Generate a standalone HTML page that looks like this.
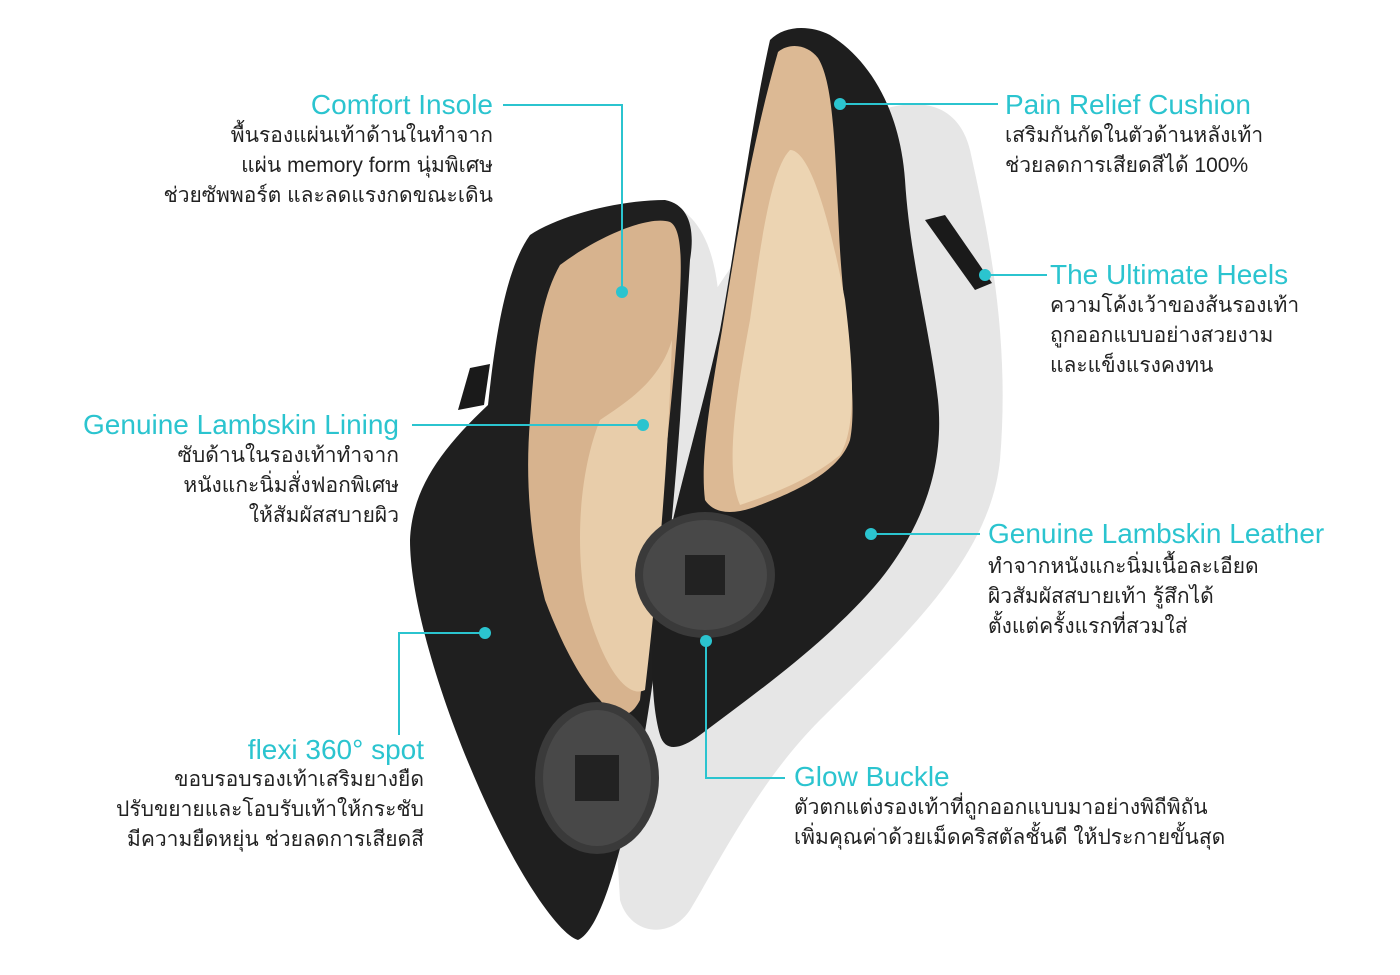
<!DOCTYPE html>
<html><head><meta charset="utf-8"><style>
html,body{margin:0;padding:0;background:#fff;width:1400px;height:975px;overflow:hidden}
.wrap{position:relative;width:1400px;height:975px;font-family:"Liberation Sans","Noto Sans CJK SC",sans-serif}
.t{position:absolute;color:#2bc4cf;font-size:28px;white-space:nowrap;line-height:30px}
.d{position:absolute;color:#222;font-size:21px;line-height:30px;white-space:nowrap}
.r{text-align:right}
svg{position:absolute;left:0;top:0}
</style></head><body><div class="wrap">
<svg width="1400" height="975" viewBox="0 0 1400 975">
<path d="M880,110 C930,95 960,110 970,150 C990,240 1010,340 1000,460 C990,560 900,640 820,720 C760,780 720,860 690,910 C670,940 630,935 620,900 L600,560 C650,400 700,300 760,230 C800,180 840,120 880,110Z" fill="#e6e6e6"/>
<path d="M660,200 C700,210 720,250 720,330 L700,600 L640,600 L620,260Z" fill="#e6e6e6"/>
<path d="M470,368 L490,364 L484,405 L458,410 Z" fill="#1a1a1a"/>
<path d="M530,235 C560,215 620,200 665,200 C690,205 695,230 690,260 L680,420 C670,560 655,680 640,760 C620,860 600,930 578,940 C560,935 520,880 480,790 C440,700 410,600 410,540 C412,490 440,450 488,405 C495,340 505,270 530,235Z" fill="#1f1f1f"/>
<path d="M560,265 C600,235 650,215 670,222 C685,230 682,280 675,360 C665,470 655,560 640,700 C630,720 615,720 600,700 C580,680 560,640 545,600 C530,540 525,480 530,420 C535,350 540,300 560,265Z" fill="#d7b38e"/>
<path d="M600,420 C630,400 660,380 672,340 C668,460 660,560 645,690 C625,700 600,660 585,600 C575,540 580,470 600,420Z" fill="#e8cdaa"/>
<path d="M925,220 L945,215 L992,283 L975,290 Z" fill="#1a1a1a"/>
<path d="M770,40 C785,25 810,25 830,35 C870,60 900,110 905,180 C910,260 930,330 938,400 C945,470 920,530 880,580 C830,640 760,690 700,735 C680,750 665,752 660,735 C650,700 650,640 660,580 C675,500 700,420 720,330 C735,250 750,130 770,40Z" fill="#1e1e1e"/>
<path d="M778,52 C790,42 808,45 818,58 C835,85 835,160 840,250 C845,330 858,400 850,440 C840,470 800,490 760,505 C735,515 715,515 705,500 C700,460 710,400 722,330 C735,250 750,150 778,52Z" fill="#dcb994"/>
<path d="M790,150 C810,150 830,220 845,300 C855,380 855,430 840,455 C810,480 770,495 740,505 C725,470 735,400 750,320 C760,250 770,170 790,150Z" fill="#ecd4b2"/>
<ellipse cx="705" cy="575" rx="70" ry="63" fill="#3a3a3a"/>
<ellipse cx="705" cy="575" rx="62" ry="55" fill="#555" opacity="0.5"/>
<rect x="685" y="555" width="40" height="40" fill="#222"/>
<ellipse cx="597" cy="778" rx="62" ry="76" fill="#3a3a3a"/>
<ellipse cx="597" cy="778" rx="54" ry="68" fill="#555" opacity="0.5"/>
<rect x="575" y="755" width="44" height="46" fill="#222"/>
<g stroke="#2bc4cf" stroke-width="2" fill="none">
<polyline points="503,105 622,105 622,292"/>
<line x1="840" y1="104" x2="998" y2="104"/>
<line x1="985" y1="275" x2="1047" y2="275"/>
<line x1="412" y1="425" x2="643" y2="425"/>
<line x1="871" y1="534" x2="980" y2="534"/>
<polyline points="399,735 399,633 485,633"/>
<polyline points="706,641 706,778 785,778"/>
</g>
<g fill="#2bc4cf">
<circle cx="622" cy="292" r="6"/><circle cx="840" cy="104" r="6"/><circle cx="985" cy="275" r="6"/>
<circle cx="643" cy="425" r="6"/><circle cx="871" cy="534" r="6"/><circle cx="485" cy="633" r="6"/><circle cx="706" cy="641" r="6"/>
</g>
</svg>
<div class="t r" style="right:907px;top:90px">Comfort Insole</div>
<div class="d r" style="right:907px;top:121px">พื้นรองแผ่นเท้าด้านในทำจาก<br>แผ่น memory form นุ่มพิเศษ<br>ช่วยซัพพอร์ต และลดแรงกดขณะเดิน</div>
<div class="t" style="left:1005px;top:90px">Pain Relief Cushion</div>
<div class="d" style="left:1005px;top:121px">เสริมกันกัดในตัวด้านหลังเท้า<br>ช่วยลดการเสียดสีได้ 100%</div>
<div class="t" style="left:1050px;top:260px">The Ultimate Heels</div>
<div class="d" style="left:1050px;top:291px">ความโค้งเว้าของส้นรองเท้า<br>ถูกออกแบบอย่างสวยงาม<br>และแข็งแรงคงทน</div>
<div class="t r" style="right:1001px;top:410px">Genuine Lambskin Lining</div>
<div class="d r" style="right:1001px;top:441px">ซับด้านในรองเท้าทำจาก<br>หนังแกะนิ่มสั่งฟอกพิเศษ<br>ให้สัมผัสสบายผิว</div>
<div class="t" style="left:988px;top:519px">Genuine Lambskin Leather</div>
<div class="d" style="left:988px;top:552px">ทำจากหนังแกะนิ่มเนื้อละเอียด<br>ผิวสัมผัสสบายเท้า รู้สึกได้<br>ตั้งแต่ครั้งแรกที่สวมใส่</div>
<div class="t r" style="right:976px;top:735px">flexi 360° spot</div>
<div class="d r" style="right:976px;top:765px">ขอบรอบรองเท้าเสริมยางยืด<br>ปรับขยายและโอบรับเท้าให้กระชับ<br>มีความยืดหยุ่น ช่วยลดการเสียดสี</div>
<div class="t" style="left:794px;top:762px">Glow Buckle</div>
<div class="d" style="left:794px;top:793px">ตัวตกแต่งรองเท้าที่ถูกออกแบบมาอย่างพิถีพิถัน<br>เพิ่มคุณค่าด้วยเม็ดคริสตัลชั้นดี ให้ประกายขั้นสุด</div>
</div></body></html>
